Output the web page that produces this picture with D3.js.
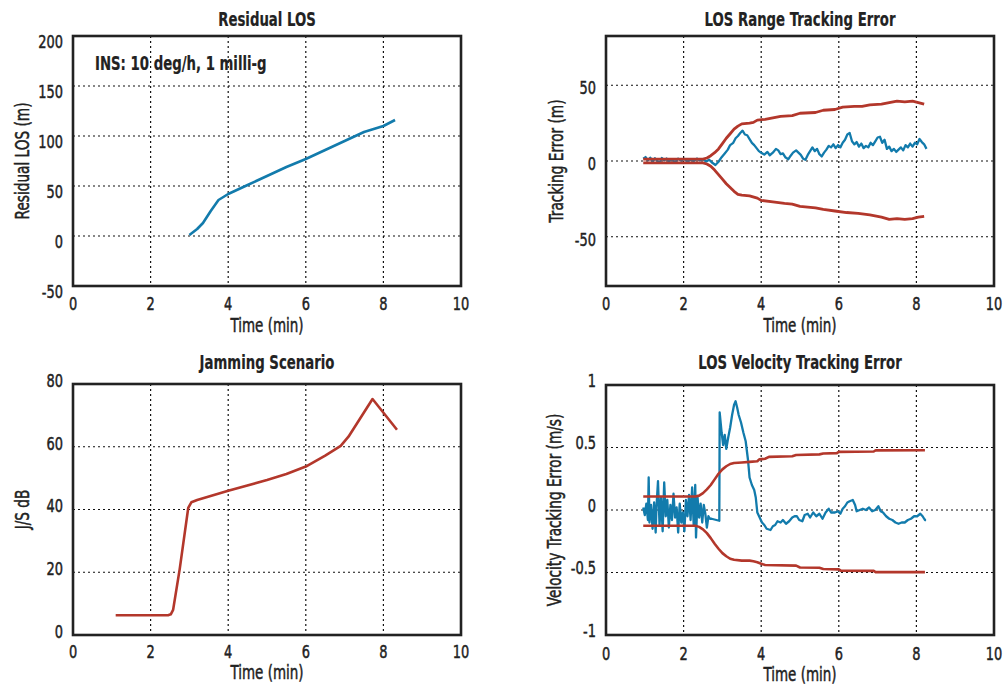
<!DOCTYPE html>
<html>
<head>
<meta charset="utf-8">
<script src="https://cdn.jsdelivr.net/npm/d3@7"></script>
<style>
  body { margin: 0; background: #fff; }
  svg text { font-family: "DejaVu Sans", sans-serif; fill: #222; stroke: #222; stroke-width: 0.5px; }
</style>
</head>
<body>
<div id="chart"></div>
<script>
// ---- data (time in minutes) ----
var timeTicks = [0, 2, 4, 6, 8, 10];

var residualLos = [[3.0,1],[3.2,7],[3.35,13],[3.55,25],[3.75,36],[4.0,42],[4.5,51],[5.0,60],
  [5.5,69],[6.0,77],[6.5,86],[7.0,95],[7.5,104],[8.0,110],[8.3,116]];

var rangeErr = [[0.96,1.5],[1.02,2.6],[1.08,0.4],[1.14,2.2],[1.2,-0.6],[1.26,1.8],[1.32,0.2],[1.38,-1.2],
  [1.44,2.0],[1.5,0.4],[1.56,1.6],[1.62,-0.4],[1.7,1.2],[1.78,-0.8],[1.86,1.6],[1.94,0.2],[2.02,1.4],
  [2.1,-0.6],[2.18,1.0],[2.26,0.0],[2.34,1.6],[2.42,0.4],[2.5,1.2],[2.58,-0.4],[2.66,0.8],[2.74,-1.2],
  [2.82,-2.6],[2.9,-0.5],[2.98,2.5],[3.06,5],[3.14,7.5],[3.2,10.5],[3.28,12],[3.34,15],[3.4,16.5],
  [3.46,18.5],[3.52,20],[3.58,17.5],[3.64,17],[3.7,14.5],[3.76,12],[3.82,10.5],[3.88,8.5],[3.94,6.5],
  [4.0,5.5],[4.08,4.2],[4.16,6],[4.22,3.8],[4.3,5.5],[4.38,8],[4.44,7],[4.5,4.5],[4.56,5],[4.62,2.5],
  [4.7,1.2],[4.76,3.5],[4.82,5.5],[4.9,7],[4.96,5.5],[5.02,4],[5.08,1.5],[5.14,0.8],[5.2,4],[5.26,6.5],
  [5.32,9],[5.38,6.5],[5.44,8],[5.5,4.5],[5.56,3],[5.62,5.5],[5.68,7.5],[5.74,10],[5.8,9],[5.86,11],
  [5.92,8.5],[5.98,10.5],[6.04,9],[6.1,12],[6.16,14],[6.22,17.5],[6.28,18.5],[6.34,13],[6.4,11],
  [6.46,12.5],[6.52,9.5],[6.58,11.5],[6.64,8.5],[6.7,10],[6.76,9],[6.82,12],[6.88,10.5],[6.94,13],
  [7.0,15.5],[7.06,16],[7.12,12],[7.18,14],[7.24,8],[7.3,9.5],[7.36,6.5],[7.42,8],[7.48,6],[7.54,7.5],
  [7.6,9],[7.66,7],[7.72,10.5],[7.78,9],[7.84,11.5],[7.9,9.5],[7.96,12],[8.02,11],[8.08,14.5],
  [8.14,12.5],[8.2,11],[8.26,8]];

var rangeUpper = [[0.96,1.2],[2.5,1.2],[2.6,2],[2.7,3.5],[2.8,5.5],[2.9,8],[3.0,11.5],[3.1,15],[3.2,18],
  [3.3,21],[3.4,23],[3.5,24.5],[3.7,25],[3.8,25.5],[3.9,27],[4.1,27.5],[4.3,28.5],[4.5,29.5],[4.8,30],
  [5.0,31.5],[5.4,32],[5.6,33.5],[5.9,34],[6.1,35.5],[6.4,36],[6.6,36],[6.8,37],[7.1,37.5],[7.3,38.5],
  [7.5,39.5],[7.7,39],[7.9,39.5],[8.05,38.5],[8.2,37.5]];

var rangeLower = [[0.96,-1.2],[2.5,-1.2],[2.6,-2],[2.7,-3.5],[2.8,-6],[2.9,-9],[3.0,-12],[3.1,-15],
  [3.2,-17.5],[3.3,-20],[3.4,-22],[3.5,-22.5],[3.7,-23],[3.9,-24.5],[4.0,-26],[4.3,-27],[4.6,-28],
  [4.8,-28.5],[5.0,-30],[5.4,-31],[5.6,-32],[5.9,-33],[6.2,-34],[6.5,-34.5],[6.8,-35.5],[7.1,-37],
  [7.3,-38.5],[7.5,-38],[7.7,-38.5],[7.9,-38],[8.05,-37],[8.2,-36.5]];

var jamming = [[1.1,6.3],[2.45,6.3],[2.52,6.6],[2.58,8],[2.75,21],[2.97,40.5],[3.05,42.3],[3.2,43],
  [4.0,46],[5.0,49.4],[5.5,51.3],[6.0,53.7],[6.5,57.2],[6.9,60.3],[7.1,63.2],[7.72,75.2],[8.35,65.4]];

var velErr = [[0.96,0.02],[1.0,-0.04],[1.04,0.05],[1.08,-0.08],[1.1,0.26],[1.12,-0.1],[1.16,0.04],
  [1.2,-0.15],[1.24,0.06],[1.28,-0.18],[1.3,0.02],[1.34,0.23],[1.38,-0.12],[1.42,0.1],[1.46,-0.17],
  [1.5,0.22],[1.54,-0.05],[1.58,0.08],[1.62,-0.14],[1.66,0.04],[1.7,-0.08],[1.74,0.13],[1.78,-0.06],
  [1.82,0.02],[1.86,-0.18],[1.9,0.05],[1.94,-0.1],[1.98,-0.02],[2.02,-0.17],[2.06,0.08],[2.1,-0.05],
  [2.14,0.12],[2.18,-0.08],[2.22,0.18],[2.26,-0.12],[2.3,0.2],[2.32,-0.22],[2.36,0.1],[2.4,-0.06],
  [2.44,0.05],[2.48,-0.1],[2.52,0.04],[2.56,-0.03],[2.6,-0.14],[2.64,-0.05],[2.68,-0.07],[2.72,-0.07],
  [2.92,-0.086],[2.93,0.78],[2.98,0.62],[3.02,0.52],[3.06,0.6],[3.1,0.49],[3.15,0.58],[3.2,0.66],
  [3.25,0.76],[3.3,0.84],[3.34,0.87],[3.38,0.82],[3.42,0.76],[3.48,0.7],[3.54,0.62],[3.6,0.55],
  [3.66,0.4],[3.7,0.26],[3.76,0.2],[3.82,0.16],[3.86,0.1],[3.9,-0.02],[3.96,-0.06],[4.02,-0.1],
  [4.08,-0.12],[4.14,-0.15],[4.24,-0.16],[4.3,-0.13],[4.36,-0.12],[4.42,-0.09],[4.5,-0.1],[4.56,-0.08],
  [4.64,-0.11],[4.72,-0.09],[4.8,-0.06],[4.86,-0.05],[4.92,-0.05],[4.98,-0.08],[5.06,-0.09],[5.12,-0.04],
  [5.2,-0.03],[5.26,-0.06],[5.34,-0.02],[5.42,-0.05],[5.5,-0.03],[5.58,-0.07],[5.66,-0.02],[5.74,0.01],
  [5.8,-0.02],[5.9,-0.02],[5.98,-0.01],[6.04,-0.03],[6.1,0.01],[6.16,0.03],[6.22,0.06],[6.28,0.07],
  [6.36,0.08],[6.42,0.04],[6.46,-0.01],[6.54,0.0],[6.62,0.01],[6.7,0.0],[6.78,0.02],[6.86,-0.01],
  [6.94,0.0],[7.02,0.03],[7.08,-0.01],[7.14,-0.02],[7.22,-0.05],[7.3,-0.07],[7.38,-0.08],[7.46,-0.1],
  [7.54,-0.11],[7.62,-0.1],[7.7,-0.1],[7.78,-0.08],[7.86,-0.07],[7.94,-0.05],[8.02,-0.05],[8.1,-0.03],
  [8.16,-0.05],[8.22,-0.08],[8.25,-0.08]];

var velUpper = [[0.96,0.108],[2.3,0.108],[2.4,0.115],[2.5,0.135],[2.6,0.165],[2.7,0.2],[2.8,0.245],
  [2.9,0.29],[3.0,0.325],[3.1,0.35],[3.2,0.368],[3.3,0.376],[3.5,0.38],[3.7,0.385],[3.9,0.39],
  [3.95,0.405],[4.1,0.41],[4.2,0.425],[4.8,0.43],[4.9,0.44],[5.5,0.445],[5.6,0.452],[5.95,0.455],
  [6.0,0.465],[6.9,0.468],[6.95,0.477],[8.22,0.478]];

var velLower = [[0.96,-0.126],[2.3,-0.126],[2.4,-0.135],[2.5,-0.155],[2.6,-0.185],[2.7,-0.225],
  [2.8,-0.27],[2.9,-0.31],[3.0,-0.345],[3.1,-0.37],[3.2,-0.39],[3.3,-0.398],[3.5,-0.405],[3.7,-0.405],
  [3.8,-0.41],[3.9,-0.418],[4.0,-0.43],[4.1,-0.44],[4.9,-0.445],[5.0,-0.46],[5.5,-0.462],[5.6,-0.472],
  [6.0,-0.475],[6.05,-0.485],[6.9,-0.487],[6.95,-0.497],[8.22,-0.497]];

var BLUE = "#127bac", RED = "#b3372b";
var SQ_NUM = 0.72, SQ_TXT = 0.71;   // horizontal squeeze to mimic the condensed face

var svg = d3.select("#chart").append("svg").attr("width", 1004).attr("height", 687);

var panels = [
  { box: [73, 36, 461, 286], ydom: [-50, 200], yticks: [-50, 0, 50, 100, 150, 200], ygrid: [0, 50, 100, 150],
    title: "Residual LOS", titleY: 26, ylabel: "Residual LOS (m)", ylabelX: 29, tickDy: 5,
    xTickY: 310, xTitleY: 332, note: "INS: 10 deg/h, 1 milli-g",
    series: [{ data: residualLos, color: BLUE, w: 2.6 }] },
  { box: [606, 36, 994, 286], ydom: [-82.5, 82.5], yticks: [-50, 0, 50], ygrid: [-50, 0, 50],
    title: "LOS Range Tracking Error", titleY: 26, ylabel: "Tracking Error (m)", ylabelX: 563, tickDy: 2,
    xTickY: 310, xTitleY: 332,
    series: [{ data: rangeErr, color: BLUE, w: 2.3 }, { data: rangeUpper, color: RED, w: 2.8 },
             { data: rangeLower, color: RED, w: 2.8 }] },
  { box: [73, 384, 461, 635], ydom: [0, 80], yticks: [0, 20, 40, 60, 80], ygrid: [20, 40, 60],
    title: "Jamming Scenario", titleY: 369, ylabel: "J/S dB", ylabelX: 29, tickDy: -4,
    xTickY: 658, xTitleY: 679,
    series: [{ data: jamming, color: RED, w: 2.6 }] },
  { box: [606, 385, 994, 635], ydom: [-1, 1], yticks: [-1, -0.5, 0, 0.5, 1], ygrid: [-0.5, 0, 0.5],
    title: "LOS Velocity Tracking Error", titleY: 369, ylabel: "Velocity Tracking Error (m/s)", ylabelX: 561, tickDy: -5,
    xTickY: 660, xTitleY: 681,
    series: [{ data: velErr, color: BLUE, w: 2.3 }, { data: velUpper, color: RED, w: 2.6 },
             { data: velLower, color: RED, w: 2.6 }] }
];

panels.forEach(drawPanel);

// squeezed text placed at (x,y), optional rotation
function label(g, x, y, str, size, opts) {
  opts = opts || {};
  var sx = opts.sx || SQ_TXT;
  var t = g.append("text")
    .attr("transform", "translate(" + x + "," + y + ")" + (opts.rot ? " rotate(" + opts.rot + ")" : "") +
      " scale(" + sx + ",1)")
    .attr("text-anchor", opts.anchor || "middle")
    .style("font-size", size + "px")
    .text(str);
  if (opts.bold) t.style("font-weight", "bold").style("stroke-width", "0.2px");
  return t;
}

function drawPanel(p) {
  var x = d3.scaleLinear().domain([0, 10]).range([p.box[0], p.box[2]]);
  var y = d3.scaleLinear().domain(p.ydom).range([p.box[3], p.box[1]]);
  var g = svg.append("g");

  // dotted grid
  g.selectAll(".gx").data([2, 4, 6, 8]).enter().append("line")
    .attr("x1", d => x(d)).attr("x2", d => x(d))
    .attr("y1", p.box[1]).attr("y2", p.box[3])
    .attr("stroke", "#111").attr("stroke-width", 1.2).attr("stroke-dasharray", "2,3");
  g.selectAll(".gy").data(p.ygrid).enter().append("line")
    .attr("x1", p.box[0]).attr("x2", p.box[2])
    .attr("y1", d => y(d)).attr("y2", d => y(d))
    .attr("stroke", "#111").attr("stroke-width", 1.2).attr("stroke-dasharray", "2,3");

  // series
  var line = d3.line().x(d => x(d[0])).y(d => y(d[1]));
  p.series.forEach(function(s) {
    g.append("path").attr("d", line(s.data))
      .attr("fill", "none").attr("stroke", s.color).attr("stroke-width", s.w)
      .attr("stroke-linejoin", "round");
  });

  // frame
  g.append("rect").attr("x", p.box[0]).attr("y", p.box[1])
    .attr("width", p.box[2] - p.box[0]).attr("height", p.box[3] - p.box[1])
    .attr("fill", "none").attr("stroke", "#222").attr("stroke-width", 2.6);

  // y axis labels (the frame draws the axis lines)
  var ya = g.append("g").attr("transform", "translate(" + p.box[0] + ",0)")
    .call(d3.axisLeft(y).tickValues(p.yticks).tickSize(0).tickPadding(0).tickFormat(d => String(d)));
  ya.select(".domain").remove();
  ya.selectAll("text")
    .attr("x", -10 / SQ_NUM)
    .attr("dy", (0.36 * 18 + p.tickDy) + "px")
    .attr("transform", "scale(" + SQ_NUM + ",1)")
    .attr("font-family", null).attr("font-size", null)
    .style("font-size", "18px").attr("fill", "#222");

  timeTicks.forEach(function(t) {
    label(g, x(t), p.xTickY, t, 18, { sx: SQ_NUM });
  });

  var cx = (p.box[0] + p.box[2]) / 2;
  label(g, cx, p.xTitleY, "Time (min)", 19);
  label(g, cx, p.titleY, p.title, 19, { bold: true, sx: 0.70 });
  label(g, p.ylabelX, (p.box[1] + p.box[3]) / 2, p.ylabel, 19, { rot: -90, sx: 0.72 });

  if (p.note) {
    label(g, p.box[0] + 22, p.box[1] + 34, p.note, 19, { bold: true, anchor: "start", sx: 0.70 });
  }
}
</script>
</body>
</html>
